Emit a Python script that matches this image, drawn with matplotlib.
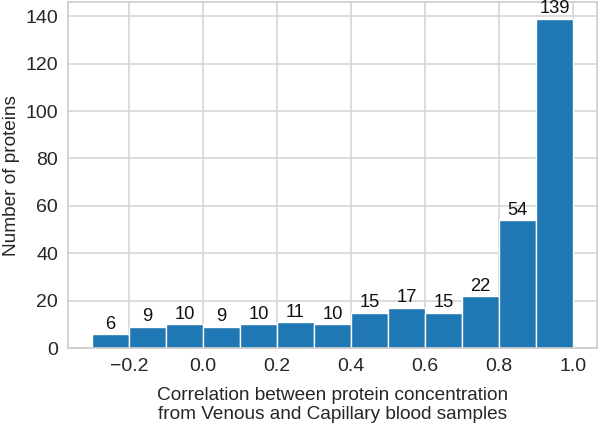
import numpy as np
import matplotlib
matplotlib.use('Agg')
import matplotlib.pyplot as plt
import seaborn as sns

# histogram counts per 0.1-wide bin of correlation
bin_left = [-0.3, -0.2, -0.1, 0.0, 0.1, 0.2, 0.3, 0.4, 0.5, 0.6, 0.7, 0.8, 0.9]
counts = [6, 9, 10, 9, 10, 11, 10, 15, 17, 15, 22, 54, 139]
bin_width = 0.1

sns.set_style('whitegrid')
plt.rcParams['font.family'] = ['Liberation Sans', 'DejaVu Sans']

fig, ax = plt.subplots(figsize=(6, 4.23), dpi=100)
bars = ax.bar(bin_left, counts, width=bin_width, align='edge',
              color='#1f77b4', edgecolor='white', linewidth=1)
ax.bar_label(bars, fontsize=13.2, padding=1, color='#111111')
ax.set_xticks([-0.2, 0.0, 0.2, 0.4, 0.6, 0.8, 1.0])
ax.set_yticks(np.arange(0, 141, 20))
ax.tick_params(labelsize=14, colors='#262626')
ax.set_ylabel('Number of proteins', fontsize=13.7, color='#262626')
ax.set_xlabel('Correlation between protein concentration\nfrom Venous and Capillary blood samples',
              fontsize=13.7, color='#262626', labelpad=8.5)
for s in ax.spines.values():
    s.set_color('#cccccc')
    s.set_linewidth(1.2)
ax.grid(color='#d5d5d5', linewidth=1.2)
ax.set_axisbelow(True)
fig.subplots_adjust(left=0.113, right=0.995, top=0.995, bottom=0.177)
fig.savefig('out.png')
